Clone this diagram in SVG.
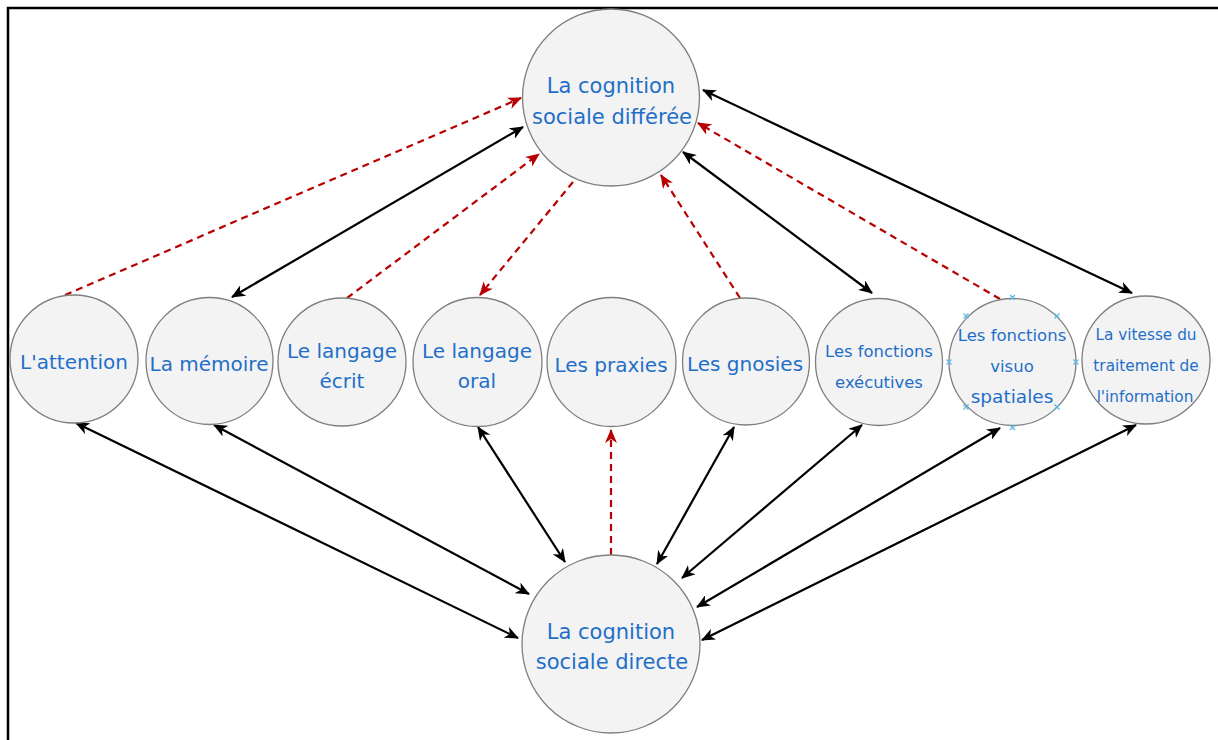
<svg xmlns="http://www.w3.org/2000/svg" width="1218" height="740" viewBox="0 0 1218 740">
<style>
.node{fill:#f3f3f3;stroke:#7f7f7f;stroke-width:1.3}
.t{font-family:"DejaVu Sans","Verdana",sans-serif;fill:#1f6fc9;text-anchor:middle}
.blk{stroke:#000;stroke-width:2.2;fill:none;marker-start:url(#ab);marker-end:url(#ab)}
.red{stroke:#b80000;stroke-width:2.2;fill:none;stroke-dasharray:7 5;marker-end:url(#ar)}
.mk{stroke:#5fb8e4;stroke-width:1.3;fill:none}
</style>
<defs>
<marker id="ab" viewBox="0 0 14 12" refX="13" refY="6" markerWidth="14" markerHeight="12" markerUnits="userSpaceOnUse" orient="auto-start-reverse"><path d="M0,0 L14,6 L0,12 L4,6 Z" fill="#000"/></marker>
<marker id="ar" viewBox="0 0 14 12" refX="13" refY="6" markerWidth="14" markerHeight="12" markerUnits="userSpaceOnUse" orient="auto"><path d="M0,0 L14,6 L0,12 L4,6 Z" fill="#b80000"/></marker>
</defs>
<rect x="0" y="0" width="1218" height="740" fill="#fff"/>
<rect x="8" y="8" width="1222" height="745" fill="none" stroke="#000" stroke-width="2.5"/>
<g id="connectors">
<line class="red" x1="65" y1="295" x2="521" y2="98"/>
<line class="blk" x1="232" y1="297" x2="523" y2="127"/>
<line class="red" x1="347" y1="298" x2="539" y2="154"/>
<line class="red" x1="573" y1="182" x2="480" y2="295"/>
<line class="red" x1="740" y1="298" x2="661" y2="175"/>
<line class="blk" x1="683" y1="152" x2="872" y2="293"/>
<line class="red" x1="1000" y1="299" x2="698" y2="123"/>
<line class="blk" x1="703" y1="90" x2="1132" y2="293"/>
<line class="blk" x1="76" y1="423" x2="518" y2="638"/>
<line class="blk" x1="214" y1="425" x2="529" y2="594"/>
<line class="blk" x1="478" y1="427" x2="565" y2="562"/>
<line class="red" x1="611" y1="555" x2="611" y2="430"/>
<line class="blk" x1="734" y1="427" x2="657" y2="564"/>
<line class="blk" x1="862" y1="425" x2="682" y2="578"/>
<line class="blk" x1="1000" y1="428" x2="697" y2="607"/>
<line class="blk" x1="1136" y1="425" x2="702" y2="640"/>
</g>
<g id="n-differee"><circle class="node" cx="611" cy="97.5" r="88.5"/><text class="t" x="611" y="93" font-size="21">La cognition</text><text class="t" x="612" y="124" font-size="21">sociale différée</text></g>
<g id="n-directe"><circle class="node" cx="611" cy="644" r="89"/><text class="t" x="611" y="639" font-size="21">La cognition</text><text class="t" x="612" y="669" font-size="21">sociale directe</text></g>
<g id="n-attention"><circle class="node" cx="74" cy="359" r="64"/><text class="t" x="74" y="369" font-size="20">L'attention</text></g>
<g id="n-memoire"><circle class="node" cx="209.5" cy="361" r="63.5"/><text class="t" x="209" y="371" font-size="20">La mémoire</text></g>
<g id="n-ecrit"><circle class="node" cx="342" cy="362" r="64"/><text class="t" x="342" y="358" font-size="20">Le langage</text><text class="t" x="342" y="388" font-size="20">écrit</text></g>
<g id="n-oral"><circle class="node" cx="477.5" cy="362" r="64.5"/><text class="t" x="477" y="358" font-size="20">Le langage</text><text class="t" x="477" y="388" font-size="20">oral</text></g>
<g id="n-praxies"><circle class="node" cx="611.5" cy="362" r="64.5"/><text class="t" x="611" y="372" font-size="20">Les praxies</text></g>
<g id="n-gnosies"><circle class="node" cx="746" cy="361.5" r="63.5"/><text class="t" x="745" y="371" font-size="20">Les gnosies</text></g>
<g id="n-executives"><circle class="node" cx="879" cy="362" r="63.5"/><text class="t" x="879" y="357" font-size="16.4">Les fonctions</text><text class="t" x="879" y="388" font-size="16.4">exécutives</text></g>
<g id="n-visuo"><circle class="node" cx="1012.5" cy="362" r="63.5"/><text class="t" x="1012" y="341" font-size="16.5">Les fonctions</text><text class="t" x="1012" y="372" font-size="16.5">visuo</text><text class="t" x="1012" y="403" font-size="18.5">spatiales</text>
<path class="mk" d="M1010,295 l5,5 m0,-5 l-5,5 M1010,425 l5,5 m0,-5 l-5,5 M946.5,359.5 l5,5 m0,-5 l-5,5 M1073.5,359.5 l5,5 m0,-5 l-5,5 M963.5,313.5 l5,5 m0,-5 l-5,5 M1054.5,313.5 l5,5 m0,-5 l-5,5 M963.5,404.5 l5,5 m0,-5 l-5,5 M1054.5,404.5 l5,5 m0,-5 l-5,5"/></g>
<g id="n-vitesse"><circle class="node" cx="1146" cy="360" r="64"/><text class="t" x="1146" y="340" font-size="15.3">La vitesse du</text><text class="t" x="1146" y="371" font-size="15.3">traitement de</text><text class="t" x="1145" y="402" font-size="15.3">l'information</text></g>
</svg>
